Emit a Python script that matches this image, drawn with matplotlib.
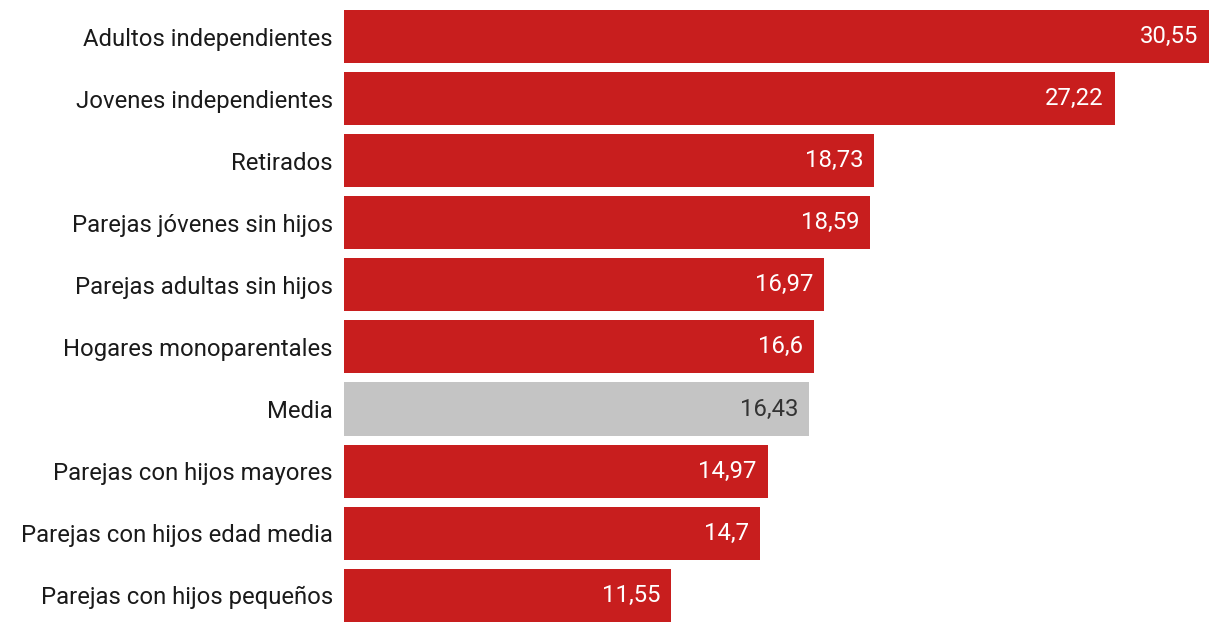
import matplotlib
matplotlib.use("Agg")
import matplotlib.pyplot as plt
from matplotlib.transforms import offset_copy

plt.rcParams['font.family'] = ['Roboto', 'DejaVu Sans']

categories = ["Adultos independientes", "Jovenes independientes", "Retirados",
              "Parejas jóvenes sin hijos", "Parejas adultas sin hijos",
              "Hogares monoparentales", "Media", "Parejas con hijos mayores",
              "Parejas con hijos edad media", "Parejas con hijos pequeños"]
values = [30.55, 27.22, 18.73, 18.59, 16.97, 16.6, 16.43, 14.97, 14.7, 11.55]
labels = ["30,55", "27,22", "18,73", "18,59", "16,97", "16,6", "16,43", "14,97", "14,7", "11,55"]

red = "#C81E1E"
grey = "#C4C4C4"

W, H = 1220, 632
fig = plt.figure(figsize=(W / 100, H / 100), dpi=100)
# axes spans from bar start (344px) to end of largest bar (1209px)
ax = fig.add_axes([344 / W, 1 - 626.3 / H, (1209 - 344) / W, (626.3 - 5.5) / H])

colors = [grey if c == "Media" else red for c in categories]
ypos = list(range(len(categories)))
ax.barh(ypos, values, height=0.855, color=colors, edgecolor="none")
ax.set_xlim(0, max(values))
ax.set_ylim(len(categories) - 0.5, -0.5)

for y, v, lab, c in zip(ypos, values, labels, categories):
    tc = "#333333" if c == "Media" else "white"
    tr = offset_copy(ax.transData, fig=fig, x=-11 / 100 * 72, y=0, units="points")
    ax.text(v, y, lab, transform=tr, ha="right", va="center", fontsize=17.2, color=tc)

ax.set_yticks(ypos)
ax.set_yticklabels(categories, fontsize=17.2, color="#1a1a1a")
ax.tick_params(axis="y", length=0, pad=8)
ax.set_xticks([])
for s in ax.spines.values():
    s.set_visible(False)

fig.savefig("out.png", dpi=100)
